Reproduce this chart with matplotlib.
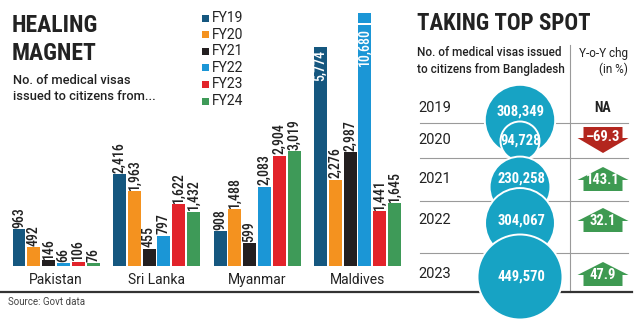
import matplotlib
matplotlib.use("Agg")
import matplotlib.pyplot as plt
from matplotlib.patches import Rectangle, Circle, Polygon

# ---------------- data ----------------
countries = ["Pakistan", "Sri Lanka", "Myanmar", "Maldives"]
series_names = ["FY19", "FY20", "FY21", "FY22", "FY23", "FY24"]
fy19 = [963, 2416, 908, 5774]
fy20 = [492, 1963, 1488, 2276]
fy21 = [146, 455, 599, 2987]
fy22 = [66, 797, 2083, 10680]
fy23 = [106, 1622, 2904, 1441]
fy24 = [76, 1432, 3019, 1645]

bd_years = ["2019", "2020", "2021", "2022", "2023"]
bd_visas = [308349, 94728, 230258, 304067, 449570]
bd_yoy = [None, -69.3, 143.1, 32.1, 47.9]

# ---------------- styles ----------------
series_colors = ["#15577f", "#f4921f", "#231f20", "#1b96d6", "#e2232a", "#3e9a58"]
bubble_color = "#17a3c4"
up_color = "#3e9a52"
down_color = "#b3261e"
ink = "#222222"

NARROW = ["Roboto Condensed", "Roboto"]
SANS = ["Roboto", "DejaVu Sans"]
ST = "condensed"

W, H = 640, 326
fig = plt.figure(figsize=(W / 100, H / 100), dpi=100)
fig.patch.set_facecolor("white")

# ---------------- grouped bars ----------------
bar_left, bar_right, bar_top, bar_base = 0, 412, 0, 266
ax = fig.add_axes([bar_left / W, 1 - bar_base / H,
                   (bar_right - bar_left) / W, (bar_base - bar_top) / H])
px_per_unit = 0.038
ax.set_ylim(0, (bar_base - bar_top) / px_per_unit)
group_step = 100.5
first_center = 56
ax.set_xlim(-first_center / group_step, (bar_right - first_center) / group_step)
ax.axis("off")

slot = 14.8 / group_step
bar_w = 13 / group_step
cap = 6650          # taller bars are drawn broken at this height
inside_limit = 5000  # values above this are labelled inside the bar

all_series = [fy19, fy20, fy21, fy22, fy23, fy24]
for j, (vals, col) in enumerate(zip(all_series, series_colors)):
    xs = [i + (j - 2.5) * slot for i in range(len(countries))]
    heights = [min(v, cap) for v in vals]
    ax.bar(xs, heights, width=bar_w, color=col, linewidth=0)
    for x, v, h in zip(xs, vals, heights):
        if v > cap:
            brk = cap - 11 / px_per_unit
            ax.add_patch(Rectangle((x - bar_w * 0.6, brk - 1.2 / px_per_unit),
                                   bar_w * 1.2, 2.2 / px_per_unit,
                                   color="white", linewidth=0, zorder=3))
            ax.text(x, brk - 4 / px_per_unit, f"{v:,}", rotation=90, ha="center",
                    va="top", color="white", fontsize=10, family=NARROW,
                    fontstretch=ST, fontweight="medium", zorder=4)
        elif v > inside_limit:
            ax.text(x, h - 3 / px_per_unit, f"{v:,}", rotation=90, ha="center",
                    va="top", color="white", fontsize=10, family=NARROW,
                    fontstretch=ST, fontweight="medium", zorder=4)
        else:
            ax.text(x, h + 1.5 / px_per_unit, f"{v:,}", rotation=90, ha="center",
                    va="bottom", color=ink, fontsize=10, family=NARROW,
                    fontstretch=ST, fontweight="medium")

for i, name in enumerate(countries):
    ax.text(i, -14 / px_per_unit, name, ha="center", va="center",
            fontsize=10, family=SANS, color=ink, clip_on=False)

# ---------------- overlay in pixel space ----------------
ov = fig.add_axes([0, 0, 1, 1])
ov.set_xlim(0, W)
ov.set_ylim(H, 0)
ov.axis("off")

# titles
ov.text(12, 26, "HEALING", fontsize=17, fontweight="bold", family=NARROW,
        fontstretch=ST, color=ink, va="center", ha="left")
ov.text(12, 53, "MAGNET", fontsize=17, fontweight="bold", family=NARROW,
        fontstretch=ST, color=ink, va="center", ha="left")
ov.text(13, 80, "No. of medical visas", fontsize=9.3, fontweight="medium",
        family=SANS, color=ink, va="center")
ov.text(13, 97, "issued to citizens from...", fontsize=9.3, fontweight="medium",
        family=SANS, color=ink, va="center")

# legend
for j, (name, col) in enumerate(zip(series_names, series_colors)):
    y = 18 + j * 16.6
    ov.add_patch(Rectangle((202, y - 3.5), 7, 7, color=col, linewidth=0))
    ov.text(212, y, name, fontsize=10, family=SANS, color=ink, va="center")

# right panel headings
ov.text(417, 24, "TAKING TOP SPOT", fontsize=16.5, fontweight="bold",
        family=NARROW, fontstretch=ST, color=ink, va="center")
ov.text(417, 53, "No. of medical visas issued", fontsize=8.5, fontweight="medium",
        family=SANS, color=ink, va="center")
ov.text(417, 69, "to citizens from Bangladesh", fontsize=8.5, fontweight="medium",
        family=SANS, color=ink, va="center")
ov.text(628, 53, "Y-o-Y chg", fontsize=8.5, family=SANS, color=ink,
        va="center", ha="right")
ov.text(628, 69, "(in %)", fontsize=8.5, family=SANS, color=ink,
        va="center", ha="right")

# rules
ov.plot([570, 570], [45, 292], color="#9a9a9a", lw=0.8, zorder=1)
for y in [123, 158, 201, 253]:
    ov.plot([420, 628], [y, y], color="#9a9a9a", lw=0.8, zorder=1)
ov.plot([0, 632], [292, 292], color="#333333", lw=1.6, zorder=1)

# bubbles (area proportional to value)
row_y = [108, 140, 179, 220, 274]
bubble_y = [120, 141, 187, 223, 277]
bubble_label_y = [112, 141, 179, 221, 277]
bubble_x = 520
r_max = 42.5
v_max = max(bd_visas)
for k, (yr, v) in enumerate(zip(bd_years, bd_visas)):
    r = r_max * (v / v_max) ** 0.5
    ov.add_patch(Circle((bubble_x, bubble_y[k]), r, facecolor=bubble_color,
                        edgecolor="white", linewidth=1.4, zorder=5 + k))
    ov.text(bubble_x + 1, bubble_label_y[k], f"{v:,}", ha="center", va="center",
            color="white", fontsize=10.5, fontweight="bold", family=NARROW,
            fontstretch=ST, zorder=5 + k)
    ov.text(418, row_y[k], yr, fontsize=10.5, family=SANS, color=ink,
            va="center", ha="left")

# year-on-year arrows
ax_c = 603
head_hw, shaft_hw = 25.5, 19.5
for k, chg in enumerate(bd_yoy):
    cy = row_y[k]
    if chg is None:
        ov.text(ax_c, cy, "NA", fontsize=10, fontweight="bold", family=NARROW,
                fontstretch=ST, color=ink, ha="center", va="center")
        continue
    if chg >= 0:
        tip, base, tail = cy - 12, cy + 1, cy + 12
        col, ty = up_color, cy + 1
    else:
        tip, base, tail = cy + 13, cy - 2, cy - 13
        col, ty = down_color, cy - 3
    pts = [(ax_c, tip), (ax_c + head_hw, base), (ax_c + shaft_hw, base),
           (ax_c + shaft_hw, tail), (ax_c - shaft_hw, tail),
           (ax_c - shaft_hw, base), (ax_c - head_hw, base)]
    ov.add_patch(Polygon(pts, closed=True, facecolor=col, edgecolor="none",
                         zorder=3))
    ov.text(ax_c, ty, f"{chg:.1f}".replace("-", "\u2013"), fontsize=10.5,
            fontweight="bold", family=NARROW, fontstretch=ST, color="white",
            ha="center", va="center", zorder=4)

ov.text(8, 302, "Source: Govt data", fontsize=7, family=SANS, color="#444444",
        va="center")

fig.savefig("out.png", dpi=100, facecolor="white")
